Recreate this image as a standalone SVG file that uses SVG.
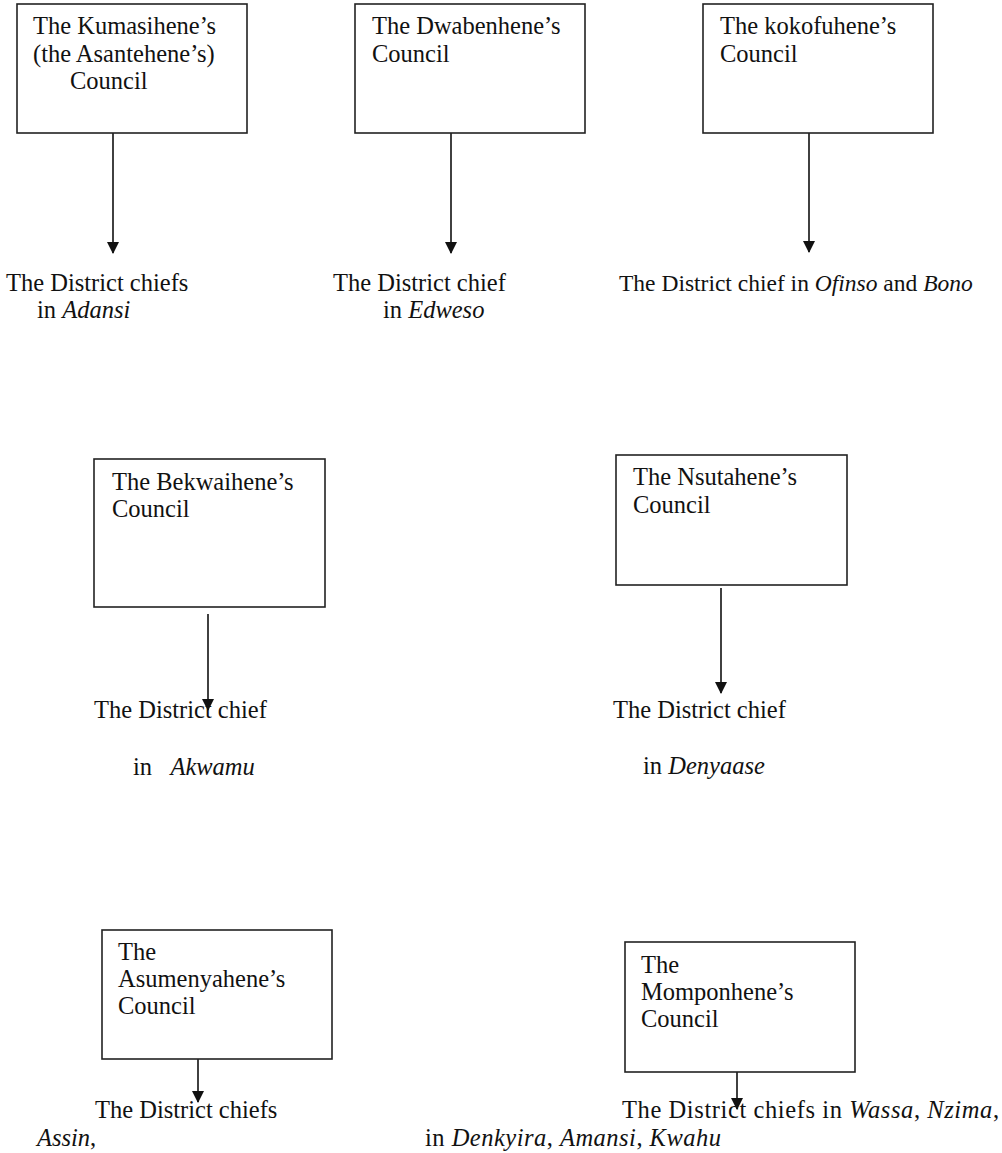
<svg xmlns="http://www.w3.org/2000/svg" width="1002" height="1153" viewBox="0 0 1002 1153">
<defs>
<marker id="ah" markerUnits="userSpaceOnUse" markerWidth="12" markerHeight="12" viewBox="0 0 12 12" refX="11" refY="6" orient="auto">
<path d="M0,0 L12,6 L0,12 Z" fill="#111"/>
</marker>
<style>
.box{fill:#fff;stroke:#222;stroke-width:1.6}
.t{font-family:"Liberation Serif","Times New Roman",serif;font-size:24.5px;fill:#111}
.s{font-size:23.5px}
.i{font-style:italic}
.c{stroke:#111;stroke-width:1.6;fill:none;marker-end:url(#ah)}
</style>
</defs>
<rect width="1002" height="1153" fill="#fff"/>
<g id="connectors">
<line class="c" x1="113" y1="133" x2="113" y2="253"/>
<line class="c" x1="451" y1="133" x2="451" y2="253"/>
<line class="c" x1="809" y1="127" x2="809" y2="252"/>
<line class="c" x1="208" y1="614" x2="208" y2="710"/>
<line class="c" x1="721" y1="588" x2="721" y2="693"/>
<line class="c" x1="198" y1="1059" x2="198" y2="1102"/>
<line class="c" x1="737" y1="1072" x2="737" y2="1109"/>
</g>
<g id="n-kumasihene">
<rect class="box" x="17" y="4" width="230" height="129"/>
<text class="t" x="33" y="34">The Kumasihene’s</text>
<text class="t" x="33" y="62">(the Asantehene’s)</text>
<text class="t" x="70" y="89">Council</text>
</g>
<g id="n-dwabenhene">
<rect class="box" x="355" y="4" width="230" height="129"/>
<text class="t" x="372" y="34">The Dwabenhene’s</text>
<text class="t" x="372" y="62">Council</text>
</g>
<g id="n-kokofuhene">
<rect class="box" x="703" y="4" width="230" height="129"/>
<text class="t" x="720" y="34">The kokofuhene’s</text>
<text class="t" x="720" y="62">Council</text>
</g>
<g id="n-adansi">
<text class="t" x="6" y="291">The District chiefs</text>
<text class="t" x="37" y="318">in <tspan class="i">Adansi</tspan></text>
</g>
<g id="n-edweso">
<text class="t" x="333" y="291">The District chief</text>
<text class="t" x="383" y="318">in <tspan class="i">Edweso</tspan></text>
</g>
<g id="n-ofinso">
<text class="t s" x="619" y="291">The District chief in <tspan class="i">Ofinso</tspan> and <tspan class="i">Bono</tspan></text>
</g>
<g id="n-bekwaihene">
<rect class="box" x="94" y="459" width="231" height="148"/>
<text class="t" x="112" y="490">The Bekwaihene’s</text>
<text class="t" x="112" y="517">Council</text>
</g>
<g id="n-akwamu">
<text class="t" x="94" y="718">The District chief</text>
<text class="t" x="133" y="775" xml:space="preserve">in   <tspan class="i">Akwamu</tspan></text>
</g>
<g id="n-nsutahene">
<rect class="box" x="616" y="455" width="231" height="130"/>
<text class="t" x="633" y="485">The Nsutahene’s</text>
<text class="t" x="633" y="513">Council</text>
</g>
<g id="n-denyaase">
<text class="t" x="613" y="718">The District chief</text>
<text class="t" x="643" y="774">in <tspan class="i">Denyaase</tspan></text>
</g>
<g id="n-asumenyahene">
<rect class="box" x="102" y="930" width="230" height="129"/>
<text class="t" x="118" y="960">The</text>
<text class="t" x="118" y="987">Asumenyahene’s</text>
<text class="t" x="118" y="1014">Council</text>
</g>
<g id="n-assin">
<text class="t" x="95" y="1118">The District chiefs</text>
<text class="t" x="37" y="1146"><tspan class="i">Assin</tspan>,</text>
</g>
<g id="n-momponhene">
<rect class="box" x="625" y="942" width="230" height="130"/>
<text class="t" x="641" y="973">The</text>
<text class="t" x="641" y="1000">Momponhene’s</text>
<text class="t" x="641" y="1027">Council</text>
</g>
<g id="n-wassa">
<text class="t" x="622" y="1118" textLength="377" lengthAdjust="spacing">The District chiefs in <tspan class="i">Wassa</tspan>, <tspan class="i">Nzima</tspan>,</text>
<text class="t" x="425" y="1146" textLength="296" lengthAdjust="spacing">in <tspan class="i">Denkyira</tspan>, <tspan class="i">Amansi</tspan>, <tspan class="i">Kwahu</tspan></text>
</g>
</svg>
